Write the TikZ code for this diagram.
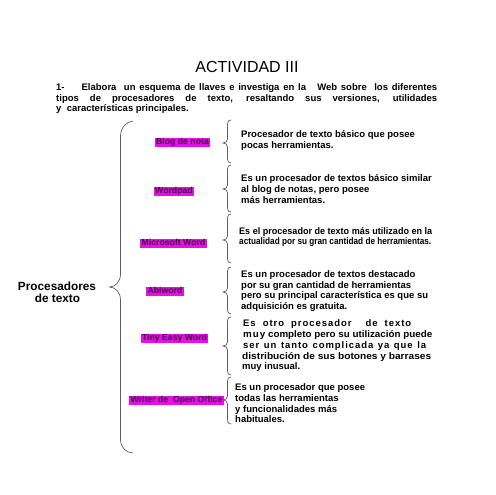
\documentclass[tikz,border=0pt]{standalone}
\usepackage{fontspec}
\usepackage{graphicx}
\setmainfont{Liberation Sans}
\newfontfamily\lsfont[LetterSpace=10]{Liberation Sans}
\definecolor{hl}{RGB}{226,18,226}
\definecolor{hltext}{RGB}{70,0,70}
\definecolor{brc}{RGB}{95,95,95}
\newcommand\sbrace[3]{%
  \draw[brace] (231,#1) .. controls (228.6,#1) and (227.5,{#1+1.5}) .. (227.5,{#1+4})
    -- (227.5,{#2-4}) .. controls (227.5,{#2-1.5}) and (225.5,#2) .. (223,#2)
    .. controls (225.5,#2) and (227.5,{#2+1.5}) .. (227.5,{#2+4})
    -- (227.5,{#3-4}) .. controls (227.5,{#3-1.5}) and (228.6,#3) .. (231,#3);}
\begin{document}
\begin{tikzpicture}[x=1pt,y=-1pt]
\tikzset{
  ln/.style={anchor=west, inner sep=0pt, font=\bfseries\fontsize{9.5}{11}\selectfont, text height=6.8pt, text depth=2pt},
  lbl/.style={anchor=center, fill=hl, inner xsep=1.5pt, inner ysep=0.6pt, text=hltext,
     font=\bfseries\fontsize{8.7}{10}\selectfont, text height=6.4pt, text depth=1.4pt},
  brace/.style={draw=brc, line width=0.7pt},
  ttl/.style={anchor=base, inner sep=0pt, font=\fontsize{16}{18}\selectfont},
  big/.style={anchor=center, inner sep=0pt, font=\bfseries\fontsize{11.8}{13}\selectfont}
}
\useasboundingbox (0,0) rectangle (495,495);
\fill[white] (0,0) rectangle (495,495);

% title and instruction
\node[ttl] (title) at (247,72.7) {ACTIVIDAD III};
\node[ln] (p1) at (56,88) {\makebox[381pt][s]{1-\hspace{17pt}Elabora\ \ un esquema de llaves e investiga en la\ \ \ Web sobre\ \ los diferentes}};
\node[ln] (p2) at (56,99) {\makebox[381pt][s]{tipos de procesadores de texto, resaltando sus versiones, utilidades}};
\node[ln] (p3) at (56,109) {y\ \ características principales.};

% main label and big brace
\node[big] (main1) at (57,286) {Procesadores};
\node[big] (main2) at (57.5,298) {de texto};
\draw[brace] (133,121) .. controls (126,122) and (121,127) .. (120.5,136)
  -- (120.5,274) .. controls (120.5,282) and (115,287) .. (109.5,287)
  .. controls (115,287) and (120.5,292) .. (120.5,300)
  -- (120.5,440) .. controls (121,448) and (126,452.5) .. (133,453);

% processors
\node[lbl] (blog) at (182.5,142) {Blog de nota};
\node[lbl] (wordpad) at (174,191) {Wordpad};
\node[lbl] (msword) at (173.5,243) {Microsoft Word};
\node[lbl] (abiword) at (165,291) {Abiword};
\node[lbl] (tiny) at (174.5,338) {Tiny Easy Word};
\node[lbl] (writer) at (176.5,400) {Writer de\ \ Open Office};

% small braces
\sbrace{120}{143}{163}
\sbrace{165}{189}{212}
\sbrace{214}{240}{263}
\sbrace{267}{292}{314}
\sbrace{317}{346}{375}
\sbrace{377}{400}{424}

% descriptions
\node[ln] (d1a) at (241,135) {Procesador de texto básico que posee};
\node[ln] (d1b) at (241,146) {pocas herramientas.};

\node[ln] (d2a) at (241,179) {Es un procesador de textos básico similar};
\node[ln] (d2b) at (241,190) {al blog de notas, pero posee};
\node[ln] (d2c) at (241,201) {más herramientas.};

\node[ln] (d3a) at (239,232) {\resizebox{193pt}{\height}{Es\ el procesador de texto más utilizado en la}};
\node[ln] (d3b) at (239,242) {\resizebox{192pt}{\height}{actualidad por su gran cantidad de herramientas.}};

\node[ln] (d4a) at (241,275) {Es un procesador de textos destacado};
\node[ln] (d4b) at (241,286) {por su gran cantidad de herramientas};
\node[ln] (d4c) at (241,296) {pero su principal característica es que su};
\node[ln] (d4d) at (241,307) {adquisición es gratuita.};

\node[ln] (d5a) at (243,324) {\makebox[168pt][s]{\lsfont Es otro procesador\ \ de texto}};
\node[ln] (d5b) at (243,335) {\resizebox{189pt}{\height}{{\lsfont muy} completo pero su utilización puede}};
\node[ln] (d5c) at (243,346) {\makebox[183pt][s]{\lsfont ser un tanto complicada ya que la}};
\node[ln] (d5d) at (242,357) {\resizebox{189pt}{\height}{distribución de sus botones y barrases}};
\node[ln] (d5e) at (242,367) {muy inusual.};

\node[ln] (d6a) at (235,388) {Es un procesador que posee};
\node[ln] (d6b) at (235,399) {todas las herramientas};
\node[ln] (d6c) at (235,410) {y funcionalidades más};
\node[ln] (d6d) at (235,420) {habituales.};
\end{tikzpicture}
\end{document}
